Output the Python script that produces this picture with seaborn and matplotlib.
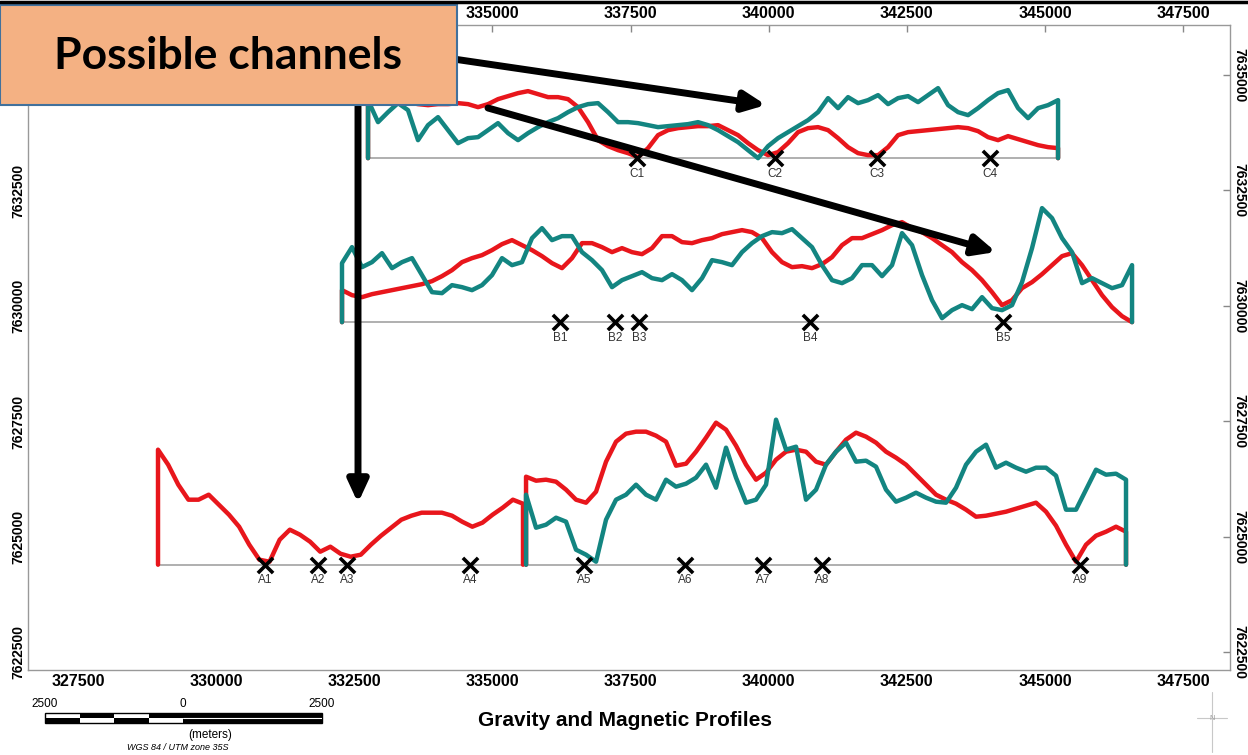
import numpy as np
import matplotlib
matplotlib.use('Agg')
import matplotlib.pyplot as plt
from matplotlib.patches import Rectangle
from matplotlib.lines import Line2D
import seaborn as sns

# map frame (UTM zone 35S, metres)
easting_ticks = [327500, 330000, 332500, 335000, 337500, 340000, 342500, 345000, 347500]
northing_ticks = [7622500, 7625000, 7627500, 7630000, 7632500, 7635000]
x_limits = (326595, 348350)
y_limits = (7622121, 7636082)

# profile anomalies are drawn as offsets above the profile line (m of northing per unit)
PROFILE_SCALE = 21.65

# Profile C
c_base = 7633200
c_start, c_end = 332749, 345238
c_gravity = [58, 58, 58, 57, 56, 54, 53, 54, 54, 55,
             54, 51, 54, 59, 62, 65, 67, 64, 61, 61,
             59, 51, 36, 18, 12, 8, 5, 1, 10, 23,
             28, 30, 31, 32, 32, 33, 28, 23, 15, 8,
             3, 6, 15, 26, 30, 31, 28, 20, 11, 5,
             3, 3, 11, 23, 26, 27, 28, 29, 30, 31,
             30, 27, 21, 18, 22, 19, 16, 13, 11, 10]
c_magnetic = [58, 36, 46, 55, 48, 18, 33, 41, 28, 15,
              20, 21, 28, 35, 25, 18, 25, 31, 36, 40,
              46, 51, 54, 55, 46, 36, 36, 35, 33, 31,
              32, 33, 34, 36, 33, 28, 22, 16, 8, 0,
              12, 20, 26, 32, 38, 46, 60, 50, 61, 55,
              58, 63, 54, 60, 62, 56, 63, 70, 53, 46,
              43, 50, 58, 65, 68, 50, 40, 50, 53, 58]
c_names = ['C1', 'C2', 'C3', 'C4']
c_marks = [337618, 340116, 341962, 344007]

# Profile B
b_base = 7629650
b_start, b_end = 332278, 346577
b_gravity = [32, 27, 25, 28, 30, 32, 34, 36, 38, 41,
             46, 52, 60, 64, 67, 72, 78, 82, 77, 72,
             66, 59, 54, 64, 79, 79, 75, 70, 74, 70,
             68, 74, 86, 86, 80, 79, 82, 84, 88, 90,
             92, 90, 84, 70, 60, 55, 56, 54, 58, 65,
             77, 84, 84, 88, 92, 97, 100, 94, 90, 84,
             77, 70, 60, 52, 42, 30, 17, 22, 34, 40,
             48, 57, 66, 69, 57, 42, 27, 15, 6, 0]
b_magnetic = [59, 75, 55, 60, 69, 54, 60, 64, 47, 30,
              29, 37, 35, 32, 37, 47, 64, 57, 60, 84,
              94, 82, 86, 86, 70, 62, 52, 35, 42, 46,
              50, 44, 42, 48, 42, 32, 44, 62, 60, 57,
              70, 79, 86, 90, 89, 93, 84, 75, 57, 42,
              39, 44, 57, 57, 46, 57, 89, 77, 47, 22,
              4, 12, 17, 13, 25, 14, 12, 17, 40, 74,
              114, 104, 84, 70, 39, 44, 39, 34, 37, 57]
b_names = ['B1', 'B2', 'B3', 'B4', 'B5']
b_marks = [336224, 337220, 337654, 340749, 344243]

# Profile A (west part gravity only, east part gravity + magnetic)
a_base = 7624400
a_west_start, a_west_end = 328948, 335554
a_east_start, a_east_end = 335609, 346468
a_west_gravity = [115, 100, 80, 65, 65, 70, 60, 50, 38, 20,
                  5, 3, 25, 35, 30, 23, 13, 18, 11, 8,
                  10, 20, 29, 37, 45, 49, 52, 52, 52, 49,
                  43, 38, 42, 50, 57, 65, 61]
a_east_gravity = [88, 84, 85, 83, 75, 65, 62, 73, 103, 123,
                  131, 133, 133, 129, 123, 99, 101, 113, 127, 142,
                  135, 119, 100, 85, 92, 105, 113, 115, 113, 103,
                  100, 113, 125, 132, 128, 122, 113, 107, 100, 90,
                  80, 70, 65, 61, 55, 48, 49, 51, 53, 56,
                  59, 62, 53, 39, 20, 3, 20, 29, 33, 38, 33]
a_east_magnetic = [70, 37, 40, 47, 43, 15, 10, 3, 45, 65,
                   70, 80, 70, 65, 85, 78, 81, 87, 100, 77,
                   117, 87, 62, 65, 80, 145, 115, 118, 65, 75,
                   100, 113, 122, 103, 104, 98, 75, 63, 67, 72,
                   67, 63, 62, 77, 100, 113, 120, 97, 102, 97,
                   93, 97, 97, 89, 55, 55, 75, 95, 90, 91, 85]
a_names = ['A1', 'A2', 'A3', 'A4', 'A5', 'A6', 'A7', 'A8', 'A9']
a_marks = [330885, 331844, 332369, 334595, 336659, 338487, 339899, 340966, 345636]

RED = '#e8161c'
TEAL = '#138581'

sns.set_style('white')
plt.rcParams['font.family'] = ['Liberation Sans', 'DejaVu Sans']
plt.rcParams['text.color'] = 'black'
plt.rcParams['xtick.labelcolor'] = 'black'
plt.rcParams['ytick.labelcolor'] = 'black'

W, H = 1248, 755
fig = plt.figure(figsize=(W / 100, H / 100), dpi=100)
ax = fig.add_axes([28 / W, 1 - 670 / H, (1230 - 28) / W, (670 - 25) / H])
ax.set_xlim(*x_limits)
ax.set_ylim(*y_limits)


def draw_curve(e0, e1, base, vals, color):
    st = np.linspace(e0, e1, len(vals))
    xs = np.concatenate([[e0], st, [e1]])
    ys = base + PROFILE_SCALE * np.concatenate([[0], vals, [0]])
    sns.lineplot(x=xs, y=ys, color=color, lw=3.2, sort=False, estimator=None,
                 ax=ax, solid_joinstyle='round', zorder=3)


def draw_marks(names, marks, base):
    sns.scatterplot(x=marks, y=[base] * len(marks), marker='x', s=120, color='black',
                    linewidth=2.6, ax=ax, zorder=5)
    for n, e in zip(names, marks):
        ax.annotate(n, (e, base), xytext=(0, -7), textcoords='offset points',
                    ha='center', va='top', fontsize=8.5, color='#333333')


# profile lines
for e0, e1, base in [(c_start, c_end, c_base), (b_start, b_end, b_base),
                     (a_west_start, a_east_end, a_base)]:
    ax.plot([e0, e1], [base, base], color='#9a9a9a', lw=1.1, zorder=2)

draw_curve(c_start, c_end, c_base, c_gravity, RED)
draw_curve(b_start, b_end, b_base, b_gravity, RED)
draw_curve(a_west_start, a_west_end, a_base, a_west_gravity, RED)
draw_curve(a_east_start, a_east_end, a_base, a_east_gravity, RED)
draw_curve(c_start, c_end, c_base, c_magnetic, TEAL)
draw_curve(b_start, b_end, b_base, b_magnetic, TEAL)
draw_curve(a_east_start, a_east_end, a_base, a_east_magnetic, TEAL)

draw_marks(c_names, c_marks, c_base)
draw_marks(b_names, b_marks, b_base)
draw_marks(a_names, a_marks, a_base)

# ticks and frame
ax.set_xticks(easting_ticks)
ax.set_xticklabels([str(t) for t in easting_ticks])
ax.set_yticks(northing_ticks)
ax.set_yticklabels([str(t) for t in northing_ticks])
ax.tick_params(axis='both', direction='in', length=5, width=1, color='#888888',
               top=True, right=True, labeltop=True, labelright=True)
ax.tick_params(axis='x', labelsize=11.5, pad=3)
ax.tick_params(axis='y', labelsize=10, pad=2)
for t in ax.xaxis.get_major_ticks():
    t.label1.set_fontweight('bold')
    t.label2.set_fontweight('bold')
for t in ax.yaxis.get_major_ticks():
    t.label1.set_fontweight('bold')
    t.label2.set_fontweight('bold')
    t.label1.set_rotation(90)
    t.label1.set_va('center')
    t.label2.set_rotation(-90)
    t.label2.set_va('center')
for s in ax.spines.values():
    s.set_color('#999999')
    s.set_linewidth(1)

# arrows pointing to the channels (figure pixels, top-left origin)
arrow_style = '-|>,head_length=1.3,head_width=0.6'
for (sx, sy), (tx, ty) in [((440, 57), (766, 105)),
                           ((488, 108), (996, 252)),
                           ((358, 95), (358, 503))]:
    ax.annotate('', xy=(tx, H - ty), xycoords='figure pixels',
                xytext=(sx, H - sy), textcoords='figure pixels',
                arrowprops=dict(arrowstyle=arrow_style, lw=5, color='black',
                                shrinkA=0, shrinkB=0, mutation_scale=10),
                annotation_clip=False, zorder=6)

# callout box
fig.add_artist(Rectangle((0, 1 - 105 / H), 457 / W, 100 / H, transform=fig.transFigure,
                         facecolor='#F4B183', edgecolor='#41719C', lw=1.5, zorder=10))
fig.text(228 / W, 1 - 56 / H, 'Possible channels', fontsize=32, fontweight='bold',
         color='black', ha='center', va='center', family=['Lato', 'DejaVu Sans'], zorder=11)
fig.add_artist(Line2D([0, 1], [1 - 1.5 / H] * 2, transform=fig.transFigure,
                      color='black', lw=2.5, zorder=12))

# scale bar
sb = fig.add_axes([45 / W, 1 - 723 / H, 277 / W, 10 / H])
sb.set_xlim(-2500, 2500)
sb.set_ylim(0, 2)
sb.axis('off')
for i, x0 in enumerate(range(-2500, 0, 625)):
    top = 'white' if i % 2 == 0 else 'black'
    bot = 'black' if i % 2 == 0 else 'white'
    sb.add_patch(Rectangle((x0, 1), 625, 1, facecolor=top, lw=0))
    sb.add_patch(Rectangle((x0, 0), 625, 1, facecolor=bot, lw=0))
sb.add_patch(Rectangle((0, 0), 2500, 2, facecolor='black', lw=0))
sb.plot([0, 2500], [1, 1], color='white', lw=0.8)
sb.add_patch(Rectangle((-2500, 0), 5000, 2, fill=False, edgecolor='black', lw=1, clip_on=False))

fig.text(45 / W, 1 - 704 / H, '2500', ha='center', va='center', fontsize=8.5)
fig.text(183 / W, 1 - 704 / H, '0', ha='center', va='center', fontsize=8.5)
fig.text(322 / W, 1 - 704 / H, '2500', ha='center', va='center', fontsize=8.5)
fig.text(210 / W, 1 - 735 / H, '(meters)', ha='center', va='center', fontsize=8.5)
fig.text(178 / W, 1 - 748 / H, 'WGS 84 / UTM zone 35S', ha='center', va='center',
         fontsize=6.5, style='italic')

fig.text(625 / W, 1 - 721 / H, 'Gravity and Magnetic Profiles', fontsize=15,
         fontweight='bold', ha='center', va='center')

# north arrow (faint)
fig.add_artist(Line2D([1212 / W] * 2, [1 - 692 / H, 1 - 752 / H], transform=fig.transFigure,
                      color='#c8c8c8', lw=0.8))
fig.add_artist(Line2D([1197 / W, 1227 / W], [1 - 718 / H] * 2, transform=fig.transFigure,
                      color='#c8c8c8', lw=0.8))
fig.text(1212 / W, 1 - 718 / H, 'N', fontsize=5, color='#999999', ha='center', va='center')

fig.savefig('out.png', dpi=100)
